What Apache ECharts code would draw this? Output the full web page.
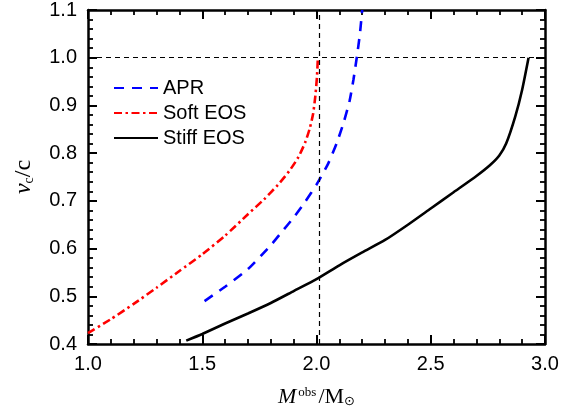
<!DOCTYPE html>
<html>
<head>
<meta charset="utf-8">
<script src="https://cdn.jsdelivr.net/npm/echarts@6/dist/echarts.min.js"></script>
<style>html,body{margin:0;padding:0;background:#fff}#c{width:576px;height:415px}</style>
</head>
<body>
<div id="c"></div>
<script>
var seriesNames = ['APR', 'Soft EOS', 'Stiff EOS'];
var aprData = [[1.51,0.49],[1.6,0.52],[1.7,0.557],[1.8,0.607],[1.85,0.636],[1.9,0.665],[1.95,0.698],[2.0,0.734],[2.05,0.777],[2.09,0.823],[2.12,0.866],[2.145,0.91],[2.162,0.955],[2.177,1.003],[2.19,1.05],[2.2,1.1]];
var softData = [[1.0,0.423],[1.1,0.452],[1.2,0.484],[1.3,0.518],[1.4,0.553],[1.5,0.588],[1.6,0.627],[1.7,0.672],[1.77,0.703],[1.83,0.733],[1.88,0.762],[1.92,0.791],[1.95,0.822],[1.97,0.851],[1.985,0.882],[1.995,0.92],[2.002,0.96],[2.006,1.0]];
var stiffData = [[1.43,0.407],[1.5,0.421],[1.6,0.443],[1.7,0.464],[1.8,0.486],[1.9,0.511],[2.0,0.536],[2.1,0.565],[2.2,0.592],[2.3,0.618],[2.4,0.65],[2.5,0.684],[2.6,0.718],[2.7,0.752],[2.76,0.775],[2.8,0.795],[2.83,0.82],[2.87,0.877],[2.9,0.933],[2.928,1.0]];
var refX = [2.01];
var refY = [1.0];
var xRange = [1.0, 3.0, 0.5];
var yRange = [0.4, 1.1, 0.1];

var chart = echarts.init(document.getElementById('c'));
var sans = 'Liberation Sans';
var serif = 'Liberation Serif';

function makeAxis(range, position, showLabel, margin) {
  var ax = {
    type: 'value', min: range[0], max: range[1], interval: range[2], position: position,
    splitLine: {show: false},
    axisLine: {show: true, lineStyle: {color: '#000', width: 2.5}},
    axisTick: {show: true, inside: true, length: 9, lineStyle: {color: '#000', width: 2}},
    minorTick: {show: true, splitNumber: 5, length: 5, lineStyle: {color: '#000', width: 1.8}},
    axisLabel: {show: showLabel}
  };
  if (showLabel) {
    ax.axisLabel = {show: true, color: '#000', fontFamily: sans, fontSize: 20, margin: margin,
      formatter: function (v) { return v.toFixed(1); }};
  }
  return ax;
}

var xMain = makeAxis(xRange, 'bottom', true, 10);
xMain.name = '{mi|M}{sup|obs}{sl|/M}{sun|\u2299}';
xMain.nameLocation = 'middle';
xMain.nameGap = 42;
xMain.nameTextStyle = {color: '#000', rich: {
  mi: {fontFamily: serif, fontStyle: 'italic', fontSize: 22, color: '#000'},
  sup: {fontFamily: serif, fontSize: 13, color: '#000', verticalAlign: 'top', padding: [0, 2, 0, 2]},
  sl: {fontFamily: serif, fontSize: 22, color: '#000'},
  sun: {fontFamily: 'DejaVu Sans', fontSize: 13, color: '#000', verticalAlign: 'bottom'}
}};
var yMain = makeAxis(yRange, 'left', true, 11);
yMain.name = '{vi|v}{sub|c}{sl|/c}';
yMain.nameLocation = 'middle';
yMain.nameGap = 52;
yMain.nameRotate = 90;
yMain.nameTextStyle = {color: '#000', rich: {
  vi: {fontFamily: serif, fontStyle: 'italic', fontSize: 24, color: '#000'},
  sub: {fontFamily: serif, fontSize: 14, color: '#000', verticalAlign: 'bottom'},
  sl: {fontFamily: serif, fontSize: 24, color: '#000'}
}};

var lineBase = {type: 'line', symbol: 'none', showSymbol: false, smooth: 0.2};

var option = {
  animation: false,
  grid: {left: 88, right: 31, top: 10, bottom: 71},
  xAxis: [xMain, makeAxis(xRange, 'top', false, 0)],
  yAxis: [yMain, makeAxis(yRange, 'right', false, 0)],
  legend: {
    orient: 'vertical', left: 108, top: 73, itemWidth: 44, itemHeight: 14, itemGap: 5,
    itemStyle: {opacity: 0},
    textStyle: {color: '#000', fontFamily: sans, fontSize: 20},
    data: seriesNames
  },
  series: [
    Object.assign({name: seriesNames[0], data: aprData,
      lineStyle: {color: '#0000ff', width: 2.6, type: [10, 8]}, itemStyle: {color: '#0000ff'}}, lineBase),
    Object.assign({name: seriesNames[1], data: softData,
      lineStyle: {color: '#ff0000', width: 2.6, type: [8, 3.5, 2.5, 3.5]}, itemStyle: {color: '#ff0000'}}, lineBase),
    Object.assign({name: seriesNames[2], data: stiffData,
      lineStyle: {color: '#000', width: 2.6, type: 'solid'}, itemStyle: {color: '#000'},
      markLine: {silent: true, symbol: 'none', label: {show: false},
        lineStyle: {color: '#000', width: 1.2, type: [5, 4]},
        data: refX.map(function (v) { return {xAxis: v}; }).concat(refY.map(function (v) { return {yAxis: v}; }))}}, lineBase)
  ]
};
chart.setOption(option);
</script>
</body>
</html>
